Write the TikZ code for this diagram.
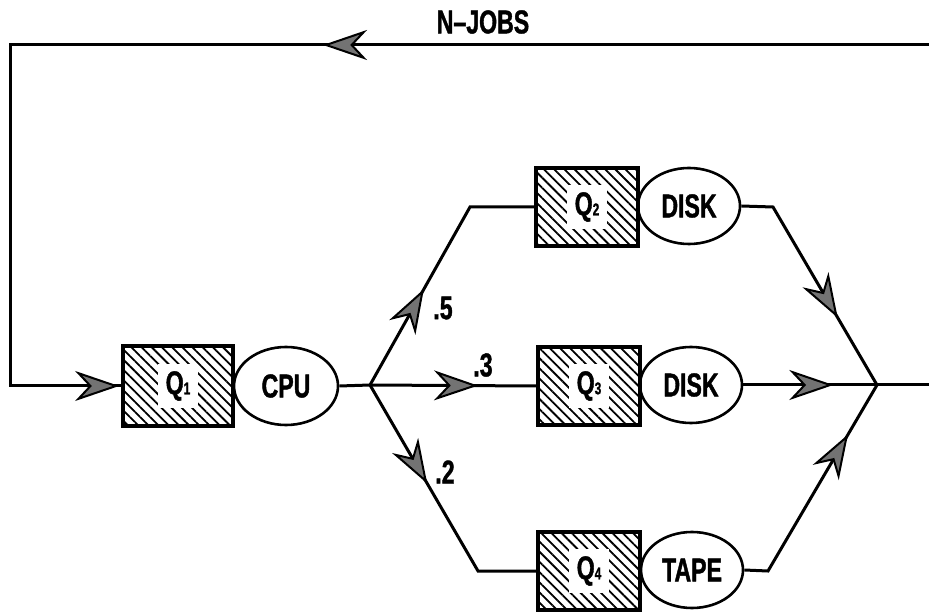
\documentclass[tikz,border=0pt]{standalone}
\usepackage{fontspec}
\setmainfont{Liberation Sans}[FakeStretch=0.7,FakeBold=1.2]
\usetikzlibrary{arrows.meta,decorations.markings,patterns.meta,shapes.geometric}

\begin{document}
\begin{tikzpicture}[x=0.5pt,y=-0.5pt,line width=1.5pt,
  font=\fontsize{16.5}{19}\selectfont\bfseries,
  queue/.style={draw,line width=1.6pt,minimum width=51pt,minimum height=39pt,inner sep=0pt,
    pattern={Lines[angle=-45,distance=3.6pt,line width=0.9pt]}},
  qname/.style={fill=white,minimum width=20pt,minimum height=22pt,inner sep=0pt},
  server/.style={draw,ellipse,line width=1.3pt,minimum width=51pt,minimum height=38pt,inner sep=0pt},
  flowtip/.tip={Stealth[length=22pt,width=15pt,inset=7pt,fill=black!55]},
  arrowat/.style={postaction={decorate,decoration={markings,
    mark=at position #1 with {\arrow[line width=1pt]{flowtip}}}}}]
  \useasboundingbox (0,0) rectangle (929,613);
  % stations
  \node[queue,minimum width=55pt,minimum height=40pt] (q1) at (178,386) {};
  \node[qname] (q1name) at (q1) {Q{\fontsize{8.5}{8}\selectfont 1}};
  \node[server,minimum width=52pt,minimum height=39pt] (cpu) at (286,386) {CPU};
  \node[queue] (q2) at (587,207) {};
  \node[qname] (q2name) at (q2) {Q{\fontsize{8.5}{8}\selectfont 2}};
  \node[server] (disk1) at (689,206) {DISK};
  \node[queue] (q3) at (589,386) {};
  \node[qname] (q3name) at (q3) {Q{\fontsize{8.5}{8}\selectfont 3}};
  \node[server] (disk2) at (691,385) {DISK};
  \node[queue] (q4) at (589,571) {};
  \node[qname] (q4name) at (q4) {Q{\fontsize{8.5}{8}\selectfont 4}};
  \node[server] (tape) at (692,570) {TAPE};
  % corners
  \coordinate (split) at (370,385);
  \coordinate (merge) at (877,385);
  \coordinate (up1) at (470,207);
  \coordinate (up2) at (773,207);
  \coordinate (lo1) at (478,571);
  \coordinate (lo2) at (768,571);
  \coordinate (outE) at (929,385);
  \coordinate (inE) at (929,45);
  \coordinate (nw) at (10,45);
  \coordinate (sw) at (10,386);
  % connectors
  \draw[arrowat=303pt,arrowat=-1.5pt] (inE) -- (nw) -- (sw) -- (q1.west);
  \draw (cpu.east) -- (split);
  \draw[arrowat=55pt] (split) -- (up1) -- (q2.west);
  \draw[arrowat=54pt] (split) -- (q3.west);
  \draw[arrowat=57pt] (split) -- (lo1) -- (q4.west);
  \draw[arrowat=80pt] (disk1.east) -- (up2) -- (merge);
  \draw[arrowat=45pt] (disk2.east) -- (merge);
  \draw[arrowat=91pt] (tape.east) -- (lo2) -- (merge);
  \draw (merge) -- (outE);
  % labels
  \node (jobs) at (483,22) {N--JOBS};
  \node (p5) at (443,308) {.5};
  \node (p3) at (483,365) {.3};
  \node (p2) at (445,472) {.2};
\end{tikzpicture}
\end{document}
